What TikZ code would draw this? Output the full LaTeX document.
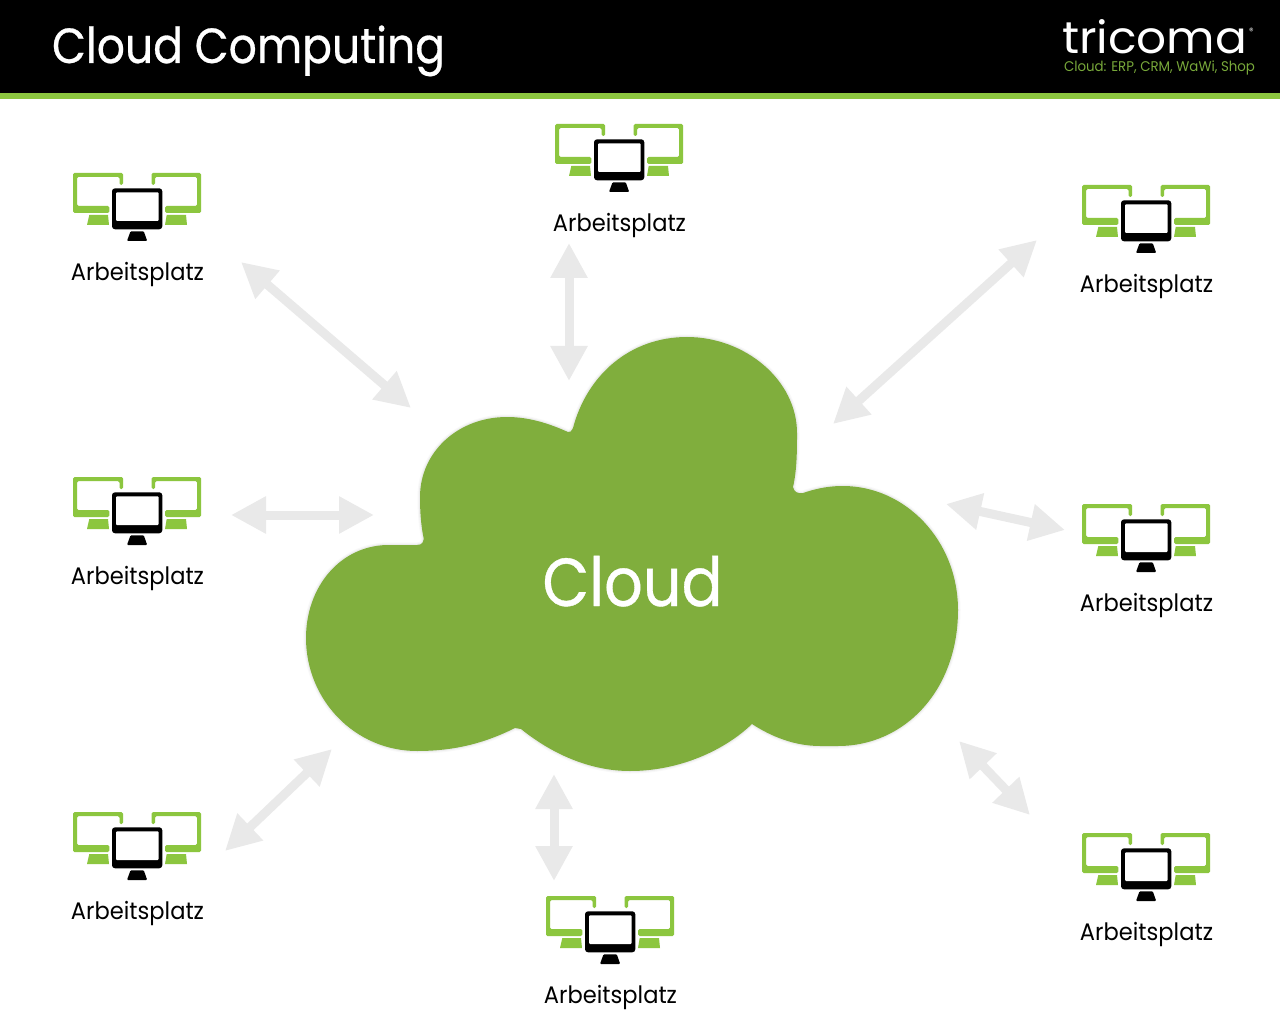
\documentclass[tikz,border=0pt]{standalone}
\usepackage{fontspec}
\usepackage{graphicx}
\usetikzlibrary{arrows.meta}
\setmainfont{Poppins}
\newfontfamily\heavy[FakeBold=0.6]{Poppins}
\definecolor{lime}{HTML}{8CC63F}
\definecolor{cloudgreen}{HTML}{80AE3D}
\definecolor{arrowgray}{HTML}{E9E9E9}
\definecolor{subgreen}{HTML}{78A83A}
\newcommand{\fitw}[3][1.12]{\scalebox{1}[#1]{\resizebox{#2pt}{!}{#3}}}
\tikzset{
  lab/.style={inner sep=0pt,outer sep=0pt},
  biarrow/.style={draw=arrowgray,line width=9pt,
    {Triangle[length=35pt,width=35pt,fill=arrowgray]}-{Triangle[length=35pt,width=35pt,fill=arrowgray]}},
  workstation/.pic={
    \fill[lime,rounded corners=1.5pt] (-64,0)--(-14,0)--(-14,12)--(-17.5,12)--(-17.5,4)--(-60,4)--(-60,33)--(-27.7,33)--(-27.7,40)--(-64,40)--cycle;
    \fill[lime] (-47.7,42)--(-29,42)--(-28,52)--(-50,52)--cycle;
    \fill[lime,rounded corners=1.5pt] (64,0)--(14.5,0)--(14.5,12)--(18,12)--(18,4)--(60,4)--(60,33)--(28,33)--(28,40)--(64,40)--cycle;
    \fill[lime] (29.7,42)--(49,42)--(50,52)--(28,52)--cycle;
    \fill[black,rounded corners=3pt] (-25,15.3) rectangle (25.3,56.3);
    \fill[white,rounded corners=1pt] (-21,19.3) rectangle (21.6,48);
    \fill[black,rounded corners=1pt] (-6.5,58.3)--(6.8,58.3)--(10.2,68)--(-10,68)--cycle;
  }
}
\newcommand{\station}[4]{%
  \pic at (#2,#3) {workstation};
  \node[lab,anchor=base] (#1) at (#2+0.5,#3+107.5) {\fitw[1.06]{133}{#4}};
}
\begin{document}
\begin{tikzpicture}[x=1pt,y=-1pt]
\useasboundingbox (0,0) rectangle (1280,1024);
\fill[white] (0,0) rectangle (1280,1024);
% header
\fill[black] (0,0) rectangle (1280,93);
\fill[lime] (0,93) rectangle (1280,99);
\node[lab,anchor=base west,text=white] (title) at (52,63) {\fitw{393}{\heavy Cloud Computing}};
\node[lab,anchor=base west,text=white] (logo) at (1062,54) {\fitw[.95]{185}{tricoma}};
\node[lab,anchor=center,text=white,font=\fontsize{9}{10}\selectfont] (reg) at (1251.5,31) {®};
\node[lab,anchor=base west,text=subgreen] (sub) at (1064,72) {\fitw[1.05]{191}{Cloud: ERP, CRM, WaWi, Shop}};
% cloud outline shared by halo and fill
\def\cloudpath{(568,432) .. controls (550,424) and (530,417) .. (507,417)
 .. controls (458,417) and (420,452) .. (420,497)
 .. controls (420,512) and (421,524) .. (423,535)
 .. controls (425,542) and (422,545) .. (417,545)
 -- (387,545)
 .. controls (340,546) and (306,587) .. (306,638)
 .. controls (306,700) and (355,751) .. (417,751)
 .. controls (455,751) and (485,743) .. (515,728)
 -- (521,729)
 .. controls (552,754) and (590,771) .. (630,771)
 .. controls (680,771) and (725,750) .. (752,724)
 .. controls (772,737) and (795,746) .. (820,746)
 -- (838,746)
 .. controls (905,746) and (958,690) .. (958,610)
 .. controls (958,540) and (905,486) .. (843,486)
 .. controls (825,486) and (812,490) .. (803,493)
 .. controls (798,494) and (794,492) .. (793,487)
 .. controls (797,470) and (797,450) .. (797,433)
 .. controls (797,380) and (745,337) .. (687,337)
 .. controls (630,337) and (587,375) .. (573,428)
 .. controls (571,432) and (570,432) .. (568,432) -- cycle}
\draw[line width=5pt,draw=black!12,opacity=.2,line join=round] \cloudpath;
\draw[line width=2.5pt,draw=black!20,opacity=.25,line join=round] \cloudpath;
\fill[cloudgreen] \cloudpath;
\node[lab,anchor=base,text=white] (cloud) at (632.5,606) {\fitw{180}{\heavy Cloud}};
% workstations
\station{wa}{137}{173}{Arbeitsplatz}
\station{wb}{619}{124}{Arbeitsplatz}
\station{wc}{1146}{185}{Arbeitsplatz}
\station{wd}{137}{477}{Arbeitsplatz}
\station{we}{1146}{504}{Arbeitsplatz}
\station{wf}{137}{812}{Arbeitsplatz}
\station{wg}{610}{896}{Arbeitsplatz}
\station{wh}{1146}{833}{Arbeitsplatz}
% arrow ends
\coordinate (a1) at (241,262); \coordinate (c1) at (411,408);
\coordinate (a2) at (569,243); \coordinate (c2) at (569,381);
\coordinate (a3) at (1037,240); \coordinate (c3) at (833,424);
\coordinate (a4) at (231,515); \coordinate (c4) at (374,515);
\coordinate (a5) at (1065,530); \coordinate (c5) at (946,504);
\coordinate (a6) at (225,851); \coordinate (c6) at (332,749);
\coordinate (a7) at (554,881); \coordinate (c7) at (554,774);
\coordinate (a8) at (1030,815); \coordinate (c8) at (959,741);
\foreach \i in {1,...,8} \draw[biarrow] (a\i) -- (c\i);
\end{tikzpicture}
\end{document}
